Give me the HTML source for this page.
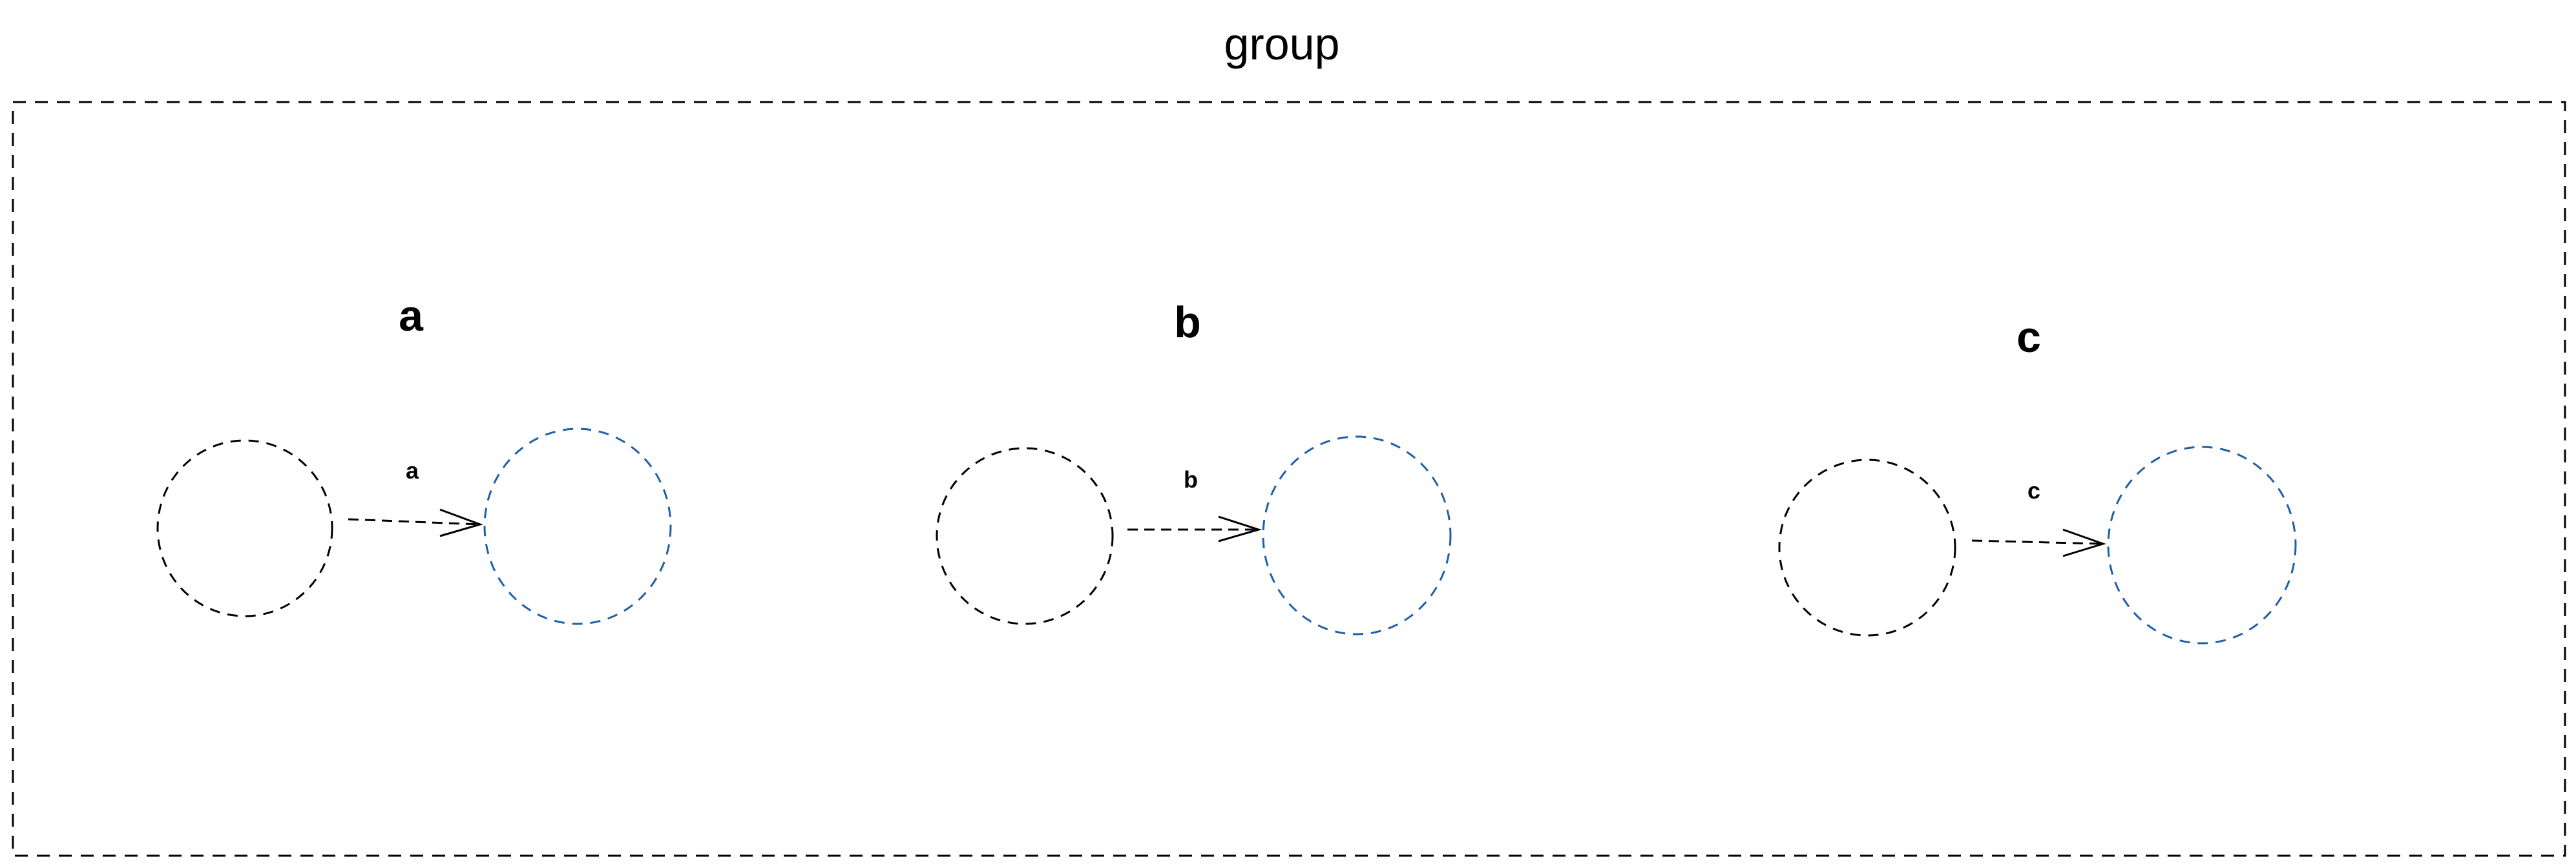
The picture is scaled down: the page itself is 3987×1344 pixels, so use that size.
<!DOCTYPE html>
<html><head><meta charset="utf-8"><style>
html,body{margin:0;padding:0;background:#fff;}
svg{display:block;}
text{font-family:"Liberation Sans",sans-serif;fill:#000;}
</style></head><body>
<svg width="3987" height="1344" viewBox="0 0 3987 1344">
<text x="1984" y="92" font-size="70" text-anchor="middle">group</text>
<rect x="20" y="158" width="3950" height="1167" fill="none" stroke="#000" stroke-width="3" stroke-dasharray="20 14"/>

<g>
<text x="636" y="512" font-size="68" font-weight="bold" text-anchor="middle">a</text>
<ellipse cx="379" cy="818" rx="135" ry="136" fill="none" stroke="#000" stroke-width="3" stroke-dasharray="16 12"/>
<ellipse cx="894" cy="815" rx="144" ry="151" fill="none" stroke="#1f5fa8" stroke-width="3" stroke-dasharray="16 12"/>
<line x1="539" y1="804" x2="743" y2="812" stroke="#000" stroke-width="3" stroke-dasharray="16 10"/>
<polyline points="681,789 743,812 681,830" fill="none" stroke="#000" stroke-width="3"/>
<text x="638" y="741" font-size="36" font-weight="bold" text-anchor="middle">a</text>
</g>

<g>
<text x="1838" y="522" font-size="68" font-weight="bold" text-anchor="middle">b</text>
<ellipse cx="1586" cy="830" rx="136" ry="136" fill="none" stroke="#000" stroke-width="3" stroke-dasharray="16 12"/>
<ellipse cx="2100" cy="829" rx="145" ry="153" fill="none" stroke="#1f5fa8" stroke-width="3" stroke-dasharray="16 12"/>
<line x1="1745" y1="820" x2="1948" y2="820" stroke="#000" stroke-width="3" stroke-dasharray="16 10"/>
<polyline points="1886,800 1948,820 1886,838" fill="none" stroke="#000" stroke-width="3"/>
<text x="1843" y="755" font-size="36" font-weight="bold" text-anchor="middle">b</text>
</g>

<g>
<text x="3140" y="545" font-size="68" font-weight="bold" text-anchor="middle">c</text>
<ellipse cx="2890" cy="848" rx="136" ry="136" fill="none" stroke="#000" stroke-width="3" stroke-dasharray="16 12"/>
<ellipse cx="3408" cy="844" rx="145" ry="152" fill="none" stroke="#1f5fa8" stroke-width="3" stroke-dasharray="16 12"/>
<line x1="3052" y1="837" x2="3255" y2="842" stroke="#000" stroke-width="3" stroke-dasharray="16 10"/>
<polyline points="3193,820 3255,842 3193,861" fill="none" stroke="#000" stroke-width="3"/>
<text x="3148" y="772" font-size="36" font-weight="bold" text-anchor="middle">c</text>
</g>
</svg>
</body></html>
